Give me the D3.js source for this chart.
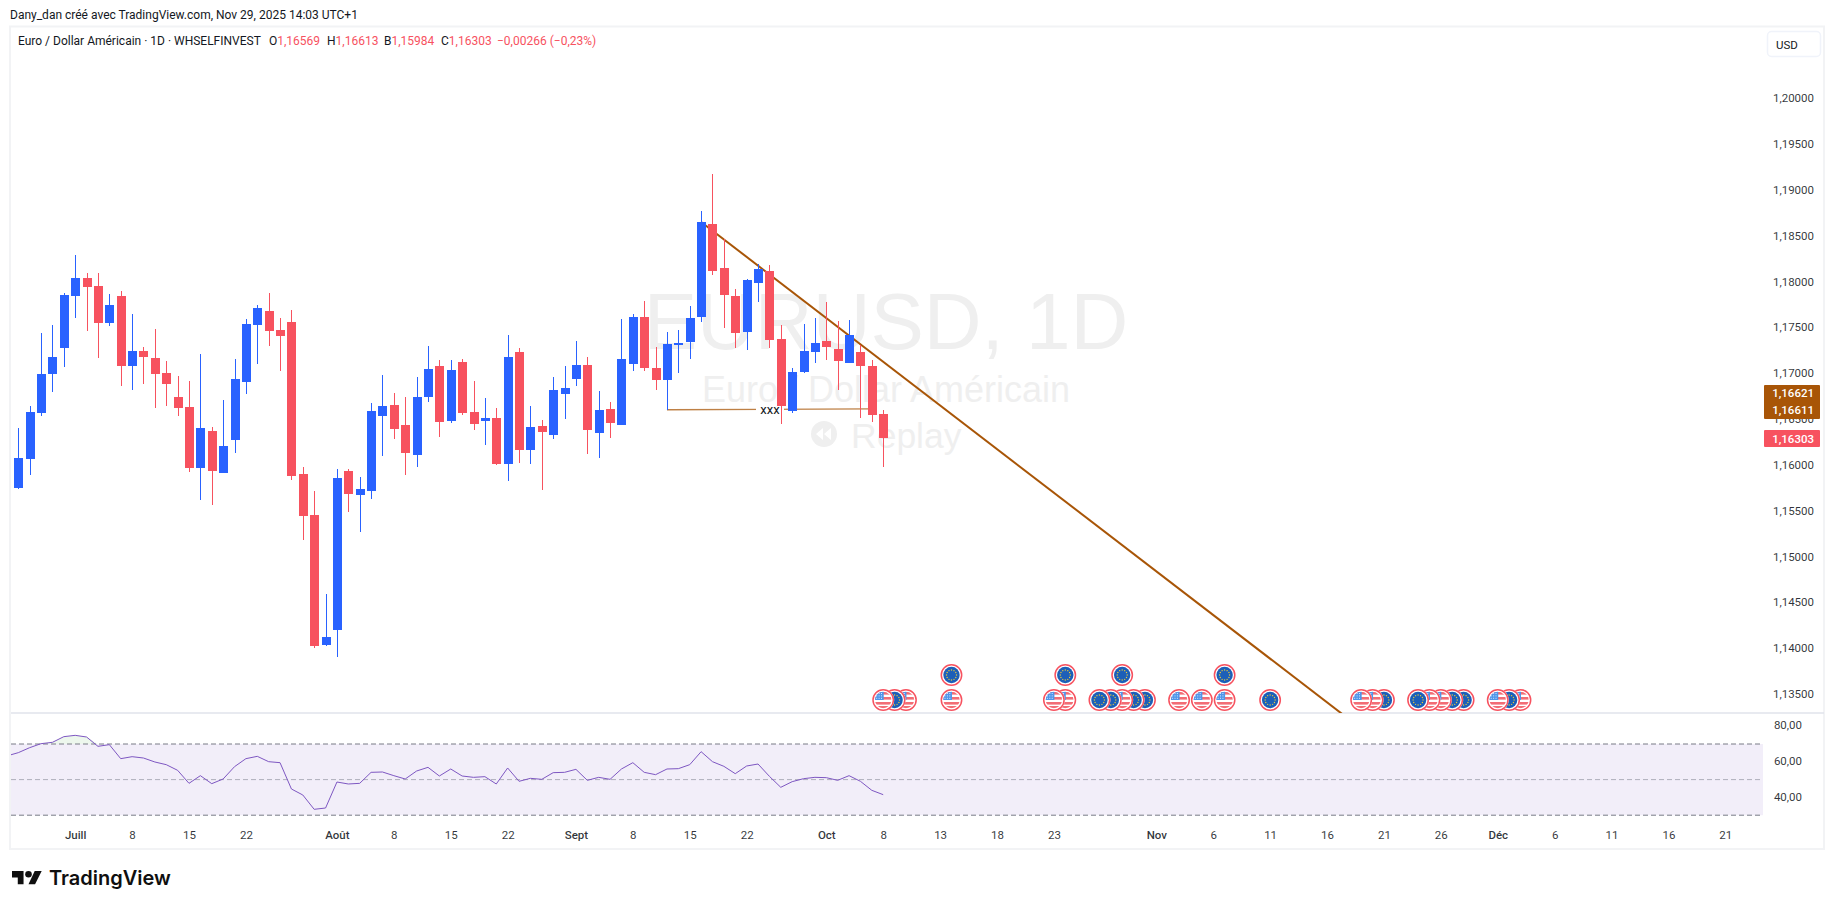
<!DOCTYPE html>
<html lang="fr">

<head>
    <meta charset="UTF-8">
    <title>EURUSD 1D</title>
    <script src="https://d3js.org/d3.v7.min.js"></script>
    <style>
        html, body { margin: 0; padding: 0; background: #fff; overflow: hidden; }
        svg { display: block; }
        text { font-family: Roboto, sans-serif; }
        .domain { display: none; }
        .tick line { display: none; }
    </style>
</head>

<body>
    <svg id="chart" width="1835" height="909"></svg>
    <script>
        // daily candles (index 0 = 24 June, 76 = 8 Oct)
        const opens = [1.15758, 1.16074, 1.16575, 1.17001, 1.17284, 1.17851, 1.18048, 1.17960, 1.17557, 1.17851,
            1.17088, 1.17251, 1.17175, 1.17012, 1.16750, 1.16641, 1.15976, 1.16379, 1.15921, 1.16281,
            1.16913, 1.17535, 1.17688, 1.17480, 1.17568, 1.15910, 1.15463, 1.14046, 1.14209, 1.15943,
            1.15681, 1.15725, 1.16543, 1.16663, 1.16445, 1.16118, 1.16750, 1.17088, 1.16488, 1.17132,
            1.16587, 1.16488, 1.16521, 1.16019, 1.17241, 1.16172, 1.16434, 1.16336, 1.16783, 1.16946,
            1.17099, 1.16357, 1.16619, 1.16445, 1.17110, 1.17622, 1.17066, 1.16935, 1.17332, 1.17350,
            1.17623, 1.18637, 1.18157, 1.17852, 1.17459, 1.17994, 1.18125, 1.17383, 1.16598, 1.17023,
            1.17241, 1.17361, 1.17274, 1.17121, 1.17241, 1.17089, 1.16569];
        const highs = [1.16412, 1.16652, 1.17448, 1.17535, 1.17884, 1.18298, 1.18102, 1.18102, 1.17873, 1.17906,
            1.17655, 1.17295, 1.17491, 1.17142, 1.16979, 1.16924, 1.17219, 1.16423, 1.16717, 1.17164,
            1.17600, 1.17753, 1.17884, 1.17611, 1.17699, 1.15987, 1.15725, 1.14602, 1.15965, 1.15965,
            1.15878, 1.16685, 1.16990, 1.16794, 1.16750, 1.16968, 1.17306, 1.17154, 1.17154, 1.17165,
            1.16925, 1.16739, 1.16630, 1.17426, 1.17284, 1.16652, 1.16499, 1.16968, 1.17088, 1.17361,
            1.17186, 1.16815, 1.16696, 1.17601, 1.17655, 1.17797, 1.17295, 1.17459, 1.17481, 1.17742,
            1.18779, 1.19182, 1.18474, 1.17928, 1.18037, 1.18201, 1.18190, 1.17536, 1.17067, 1.17547,
            1.17612, 1.17786, 1.17579, 1.17590, 1.17318, 1.17154, 1.16613];
        const lows = [1.15747, 1.15899, 1.16543, 1.16804, 1.17077, 1.17611, 1.17470, 1.17175, 1.17524, 1.16870,
            1.16826, 1.16892, 1.16630, 1.16652, 1.16543, 1.15932, 1.15627, 1.15572, 1.15921, 1.16139,
            1.16783, 1.17110, 1.17306, 1.17033, 1.15845, 1.15191, 1.14013, 1.14035, 1.13915, 1.15496,
            1.15278, 1.15638, 1.16107, 1.16292, 1.15900, 1.15987, 1.16696, 1.16314, 1.16467, 1.16554,
            1.16390, 1.16227, 1.16009, 1.15834, 1.16030, 1.16019, 1.15736, 1.16292, 1.16510, 1.16870,
            1.16129, 1.16085, 1.16303, 1.16445, 1.17034, 1.17034, 1.16826, 1.16608, 1.17012, 1.17164,
            1.17568, 1.18081, 1.17503, 1.17285, 1.17263, 1.17786, 1.17285, 1.16456, 1.16576, 1.17012,
            1.17121, 1.17154, 1.16827, 1.17121, 1.16522, 1.16478, 1.15984];
        const closes = [1.16085, 1.16586, 1.17001, 1.17186, 1.17862, 1.18048, 1.17949, 1.17557, 1.17753, 1.17088,
            1.17251, 1.17186, 1.17001, 1.16892, 1.16630, 1.15976, 1.16412, 1.15943, 1.16216, 1.16946,
            1.17546, 1.17720, 1.17470, 1.17415, 1.15888, 1.15452, 1.14035, 1.14133, 1.15867, 1.15692,
            1.15747, 1.16597, 1.16652, 1.16401, 1.16139, 1.16750, 1.17055, 1.16477, 1.17045, 1.16576,
            1.16456, 1.16521, 1.16019, 1.17186, 1.16172, 1.16423, 1.16368, 1.16826, 1.16848, 1.17099,
            1.16390, 1.16608, 1.16467, 1.17164, 1.17622, 1.17066, 1.16935, 1.17328, 1.17339, 1.17612,
            1.18659, 1.18125, 1.17863, 1.17448, 1.18026, 1.18146, 1.17372, 1.16652, 1.17023, 1.17252,
            1.17339, 1.17296, 1.17143, 1.17427, 1.17089, 1.16554, 1.16303];

        // RSI, starts one bar before the first candle
        const rsiValues = [63.3, 65.13, 67.94, 70.19, 70.94, 74.12, 74.87, 73.93, 68.69, 69.63, 61.76,
            62.88, 62.13, 59.89, 58.39, 55.21, 47.90, 52.21, 47.72, 50.34, 57.27,
            61.76, 63.07, 60.07, 59.51, 44.72, 41.35, 33.30, 34.04, 48.65, 47.53,
            47.90, 54.08, 54.27, 52.21, 50.34, 54.83, 56.89, 52.02, 55.96, 52.02,
            51.27, 51.65, 47.53, 56.52, 49.03, 50.71, 50.15, 53.90, 54.08, 55.77,
            49.59, 51.27, 50.15, 55.96, 59.51, 54.08, 52.77, 55.96, 56.14, 58.39,
            65.69, 60.07, 57.45, 53.33, 57.64, 58.76, 51.84, 45.66, 48.84, 50.52,
            51.27, 51.09, 49.59, 52.21, 49.03, 43.97, 41.54];

        const priceTicks = d3.range(0, 14).map(k => 1.135 + k * 0.005);
        const rsiTicks = [80, 60, 40];
        const rsiBands = [70, 50, 30];
        const timeTickBars = [5, 10, 15, 20, 28, 33, 38, 43, 49, 54, 59, 64, 71, 76, 81, 86, 91, 100, 105, 110, 115, 120, 125, 130, 135, 140, 145, 150];
        const timeTickLabels = ["Juill", "8", "15", "22", "Août", "8", "15", "22", "Sept", "8", "15", "22", "Oct", "8", "13", "18", "23", "Nov", "6", "11", "16", "21", "26", "Déc", "6", "11", "16", "21"];
        const monthLabels = ["Juill", "Août", "Sept", "Oct", "Nov", "Déc"];

        // drawings on the chart
        const trendBars = [60, 118];
        const trendPrices = [1.18659, 1.13134];
        const levelBars = [57, 75];
        const levelPrices = [1.16611, 1.16621];

        // economic calendar markers
        const usEventBars = [76, 78, 82, 91, 92, 97, 102, 104, 106, 118, 119, 124, 125, 130, 132];
        const euEventBars = [77, 95, 96, 98, 99, 110, 120, 123, 126, 127, 131];
        const euUpperBars = [82, 92, 97, 106];

        const blue = "#2962ff";
        const red = "#f7525f";
        const brown = "#a85507";
        const textColor = "#131722";
        const ghost = "#efefef";

        const svg = d3.select("#chart");
        const defs = svg.append("defs");

        const plotLeft = 11, plotRight = 1763, frameRight = 1824;
        const paneTop = 27, paneBottom = 713, rsiBottom = 822, frameBottom = 849;

        const x = d3.scaleLinear().domain([0, 76]).range([18.3, 883.2]);
        const y = d3.scaleLinear().domain([1.2, 1.135]).range([99, 695]);
        const rsiY = d3.scaleLinear().domain([70, 30]).range([744, 815.2]);
        const comma = d3.formatLocale({ decimal: ",", thousands: " ", grouping: [3], currency: ["", ""] });

        defs.append("clipPath").attr("id", "mainClip").append("rect")
            .attr("x", plotLeft).attr("y", paneTop).attr("width", plotRight - plotLeft).attr("height", paneBottom - paneTop);
        defs.append("clipPath").attr("id", "rsiClip").append("rect")
            .attr("x", plotLeft).attr("y", paneBottom).attr("width", plotRight - plotLeft).attr("height", rsiBottom - paneBottom);

        // frame
        svg.append("rect").attr("x", 10).attr("y", 26.5).attr("width", frameRight - 10).attr("height", frameBottom - 26.5)
            .attr("fill", "none").attr("stroke", "#f2f3f5").attr("stroke-width", 2);
        svg.append("line").attr("x1", 11).attr("x2", frameRight).attr("y1", paneBottom).attr("y2", paneBottom)
            .attr("stroke", "#e0e3eb").attr("stroke-width", 1.5);

        // watermark
        const mark = svg.append("g").attr("fill", ghost).attr("text-anchor", "middle");
        mark.append("text").attr("x", 886).attr("y", 349).attr("font-size", 80)
            .style("font-family", "'Liberation Sans'").text("EURUSD, 1D");
        mark.append("text").attr("x", 886).attr("y", 402).attr("font-size", 36)
            .style("font-family", "'Liberation Sans'").text("Euro / Dollar Américain");
        mark.append("circle").attr("cx", 824).attr("cy", 434).attr("r", 13);
        mark.append("path").attr("fill", "#fff").attr("d", "M823 428l-7 6 7 6zM831 428l-7 6 7 6z");
        mark.append("text").attr("x", 851).attr("y", 448).attr("font-size", 35.5).attr("text-anchor", "start")
            .style("font-family", "'Liberation Sans'").text("Replay");

        // header
        svg.append("text").attr("x", 10).attr("y", 18.5).attr("font-size", 12).attr("fill", textColor)
            .text("Dany_dan créé avec TradingView.com, Nov 29, 2025 14:03 UTC+1");
        svg.append("text").attr("x", 18).attr("y", 45).attr("font-size", 12).attr("fill", textColor)
            .text("Euro / Dollar Américain · 1D · WHSELFINVEST");

        const headerKeys = ["O", "H", "B", "C"];
        const headerVals = ["1,16569", "1,16613", "1,15984", "1,16303"];
        const headerPos = [269, 327, 384, 441];
        headerKeys.forEach((k, i) => {
            const t = svg.append("text").attr("x", headerPos[i]).attr("y", 45).attr("font-size", 12).attr("fill", textColor);
            t.append("tspan").text(k);
            t.append("tspan").attr("fill", red).text(headerVals[i]);
        });
        svg.append("text").attr("x", 497).attr("y", 45).attr("font-size", 12).attr("fill", red)
            .text("−0,00266 (−0,23%)");

        // USD button
        svg.append("rect").attr("x", 1767.5).attr("y", 31.5).attr("width", 53).attr("height", 25).attr("rx", 4)
            .attr("fill", "#fff").attr("stroke", "#f0f3fa").attr("stroke-width", 1.5);
        svg.append("text").attr("x", 1776).attr("y", 48.5).attr("font-size", 11.5).attr("fill", textColor).text("USD");

        // lines go under the candles
        const drawings = svg.append("g").attr("clip-path", "url(#mainClip)");
        const line = d3.line().x(d => x(d[0])).y(d => y(d[1]));
        drawings.append("path").datum(d3.zip(trendBars, trendPrices)).attr("d", line)
            .attr("fill", "none").attr("stroke", brown).attr("stroke-width", 2);
        drawings.append("path").datum(d3.zip(levelBars, levelPrices)).attr("d", line)
            .attr("fill", "none").attr("stroke", brown).attr("stroke-width", 1.3).attr("stroke-opacity", 0.75);
        drawings.append("rect").attr("x", 756).attr("y", 402).attr("width", 28).attr("height", 16).attr("fill", "#fff");
        drawings.append("text").attr("x", 770).attr("y", 414).attr("text-anchor", "middle")
            .attr("font-size", 13).attr("fill", textColor).text("xxx");

        // candles
        const candles = d3.range(opens.length).map(i => ({ i, o: opens[i], h: highs[i], l: lows[i], c: closes[i] }));
        const candle = svg.append("g").attr("clip-path", "url(#mainClip)").attr("shape-rendering", "crispEdges")
            .selectAll("g").data(candles).join("g")
            .attr("fill", d => d.c >= d.o ? blue : red);
        candle.append("rect")
            .attr("x", d => Math.round(x(d.i)))
            .attr("width", 1)
            .attr("y", d => y(d.h))
            .attr("height", d => y(d.l) - y(d.h));
        candle.append("rect")
            .attr("x", d => Math.round(x(d.i)) - 4)
            .attr("width", 9)
            .attr("y", d => y(Math.max(d.o, d.c)))
            .attr("height", d => Math.max(2, y(Math.min(d.o, d.c)) - y(Math.max(d.o, d.c))));

        // calendar markers, leftmost one on top
        defs.append("clipPath").attr("id", "iconClip").append("circle").attr("r", 8.2);
        defs.append("g").attr("id", "usFlag").attr("clip-path", "url(#iconClip)").call(g => {
            g.append("rect").attr("x", -9).attr("y", -9).attr("width", 18).attr("height", 18).attr("fill", "#fff");
            [-8, -3, 2, 6].forEach(s => g.append("rect").attr("x", -9).attr("y", s).attr("width", 18).attr("height", 2.6).attr("fill", "#f26d75"));
            g.append("rect").attr("x", -9).attr("y", -9).attr("width", 9.5).attr("height", 9).attr("fill", "#4f95ea");
            d3.range(-7, 0, 2.4).forEach(a => d3.range(-7, -1, 2.4).forEach(b =>
                g.append("rect").attr("x", a).attr("y", b).attr("width", 1).attr("height", 1).attr("fill", "#d6e8ff")));
        });
        defs.append("g").attr("id", "euFlag").call(g => {
            g.append("circle").attr("r", 8.2).attr("fill", "#1c5fb8");
            d3.range(12).forEach(k => g.append("circle").attr("r", 0.7).attr("fill", "#e8c93a")
                .attr("cx", 5 * Math.cos(k * Math.PI / 6)).attr("cy", 5 * Math.sin(k * Math.PI / 6)));
        });

        const lowerRow = usEventBars.map(b => ({ b, icon: "usFlag" }))
            .concat(euEventBars.map(b => ({ b, icon: "euFlag" })))
            .sort((p, q) => q.b - p.b);
        const upperRow = euUpperBars.map(b => ({ b, icon: "euFlag" }));

        function drawMarkers(rows, cy) {
            const m = svg.append("g").selectAll("g").data(rows).join("g")
                .attr("transform", d => `translate(${x(d.b)},${cy})`);
            m.append("circle").attr("r", 11).attr("fill", "#fff");
            m.append("circle").attr("r", 10.2).attr("fill", "#fff").attr("stroke", red).attr("stroke-width", 1.5);
            m.append("use").attr("href", d => "#" + d.icon);
        }
        drawMarkers(lowerRow, 700);
        drawMarkers(upperRow, 675);

        // RSI pane
        const rsiPane = svg.append("g").attr("clip-path", "url(#rsiClip)");
        rsiPane.append("rect").attr("x", plotLeft).attr("width", plotRight - plotLeft)
            .attr("y", rsiY(rsiBands[0])).attr("height", rsiY(rsiBands[2]) - rsiY(rsiBands[0]))
            .attr("fill", "#7e57c2").attr("fill-opacity", 0.1);
        const rsiPoints = rsiValues.map((v, k) => [k - 1, v]);
        rsiPane.append("path").datum(rsiPoints)
            .attr("d", d3.area().x(d => x(d[0])).y0(rsiY(70)).y1(d => rsiY(Math.max(70, d[1]))))
            .attr("fill", "#4caf50").attr("fill-opacity", 0.1);
        rsiBands.forEach(b => {
            rsiPane.append("line").attr("x1", plotLeft).attr("x2", plotRight)
                .attr("y1", rsiY(b)).attr("y2", rsiY(b))
                .attr("stroke", "#787b86").attr("stroke-opacity", b === 50 ? 0.55 : 1)
                .attr("stroke-dasharray", "5 3");
        });
        rsiPane.append("path").datum(rsiPoints)
            .attr("d", d3.line().x(d => x(d[0])).y(d => rsiY(d[1])))
            .attr("fill", "none").attr("stroke", "#7e57c2").attr("stroke-width", 1);

        // axes
        const priceAxis = svg.append("g").attr("transform", "translate(1814,-1)")
            .call(d3.axisLeft(y).tickValues(priceTicks).tickSize(0).tickPadding(0).tickFormat(comma.format(".5f")));
        const rsiAxis = svg.append("g").attr("transform", "translate(1802,-1)")
            .call(d3.axisLeft(rsiY).tickValues(rsiTicks).tickSize(0).tickPadding(0).tickFormat(comma.format(".2f")));
        const timeAxis = svg.append("g").attr("transform", "translate(0,831)")
            .call(d3.axisBottom(x).tickValues(timeTickBars).tickSize(0).tickPadding(0)
                .tickFormat((d, i) => timeTickLabels[i]));
        [priceAxis, rsiAxis, timeAxis].forEach(a => a.selectAll("text")
            .attr("fill", textColor).attr("fill-opacity", 0.88).style("font-size", "11.5px").style("font-family", "Roboto, sans-serif"));
        timeAxis.selectAll("text")
            .style("font-weight", (d, i) => monthLabels.includes(timeTickLabels[i]) ? 500 : 400);

        // last price and drawing labels on the price scale
        const badgeX = 1764, badgeW = 56;
        const badges = svg.append("g");
        badges.append("rect").attr("x", badgeX).attr("y", 385).attr("width", badgeW).attr("height", 34).attr("rx", 1).attr("fill", brown);
        badges.append("rect").attr("x", badgeX).attr("y", 430).attr("width", badgeW).attr("height", 17).attr("rx", 1).attr("fill", red);
        const badgeVals = [levelPrices[1], levelPrices[0], closes[closes.length - 1]];
        const badgePos = [393, 410, 438.5];
        badges.selectAll("text").data(badgeVals).join("text")
            .attr("x", 1814).attr("y", (d, i) => badgePos[i]).attr("dy", "0.35em")
            .attr("text-anchor", "end").attr("font-size", 11.5).attr("font-weight", 500).attr("fill", "#fff")
            .text(comma.format(".5f"));

        // TradingView logo
        const logo = svg.append("g").attr("transform", "translate(12,866) scale(0.825)").attr("fill", "#0f0f0f");
        logo.append("path").attr("d", "M0 6H14V22H7V14H0Z");
        logo.append("circle").attr("cx", 20).attr("cy", 10).attr("r", 4);
        logo.append("path").attr("d", "M20 22L27.5 6H36L28 22Z");
        svg.append("text").attr("x", 49).attr("y", 885).attr("font-size", 20).attr("font-weight", 600)
            .attr("fill", "#0f0f0f").style("font-family", "Inter, sans-serif").text("TradingView");
    </script>
</body>

</html>
